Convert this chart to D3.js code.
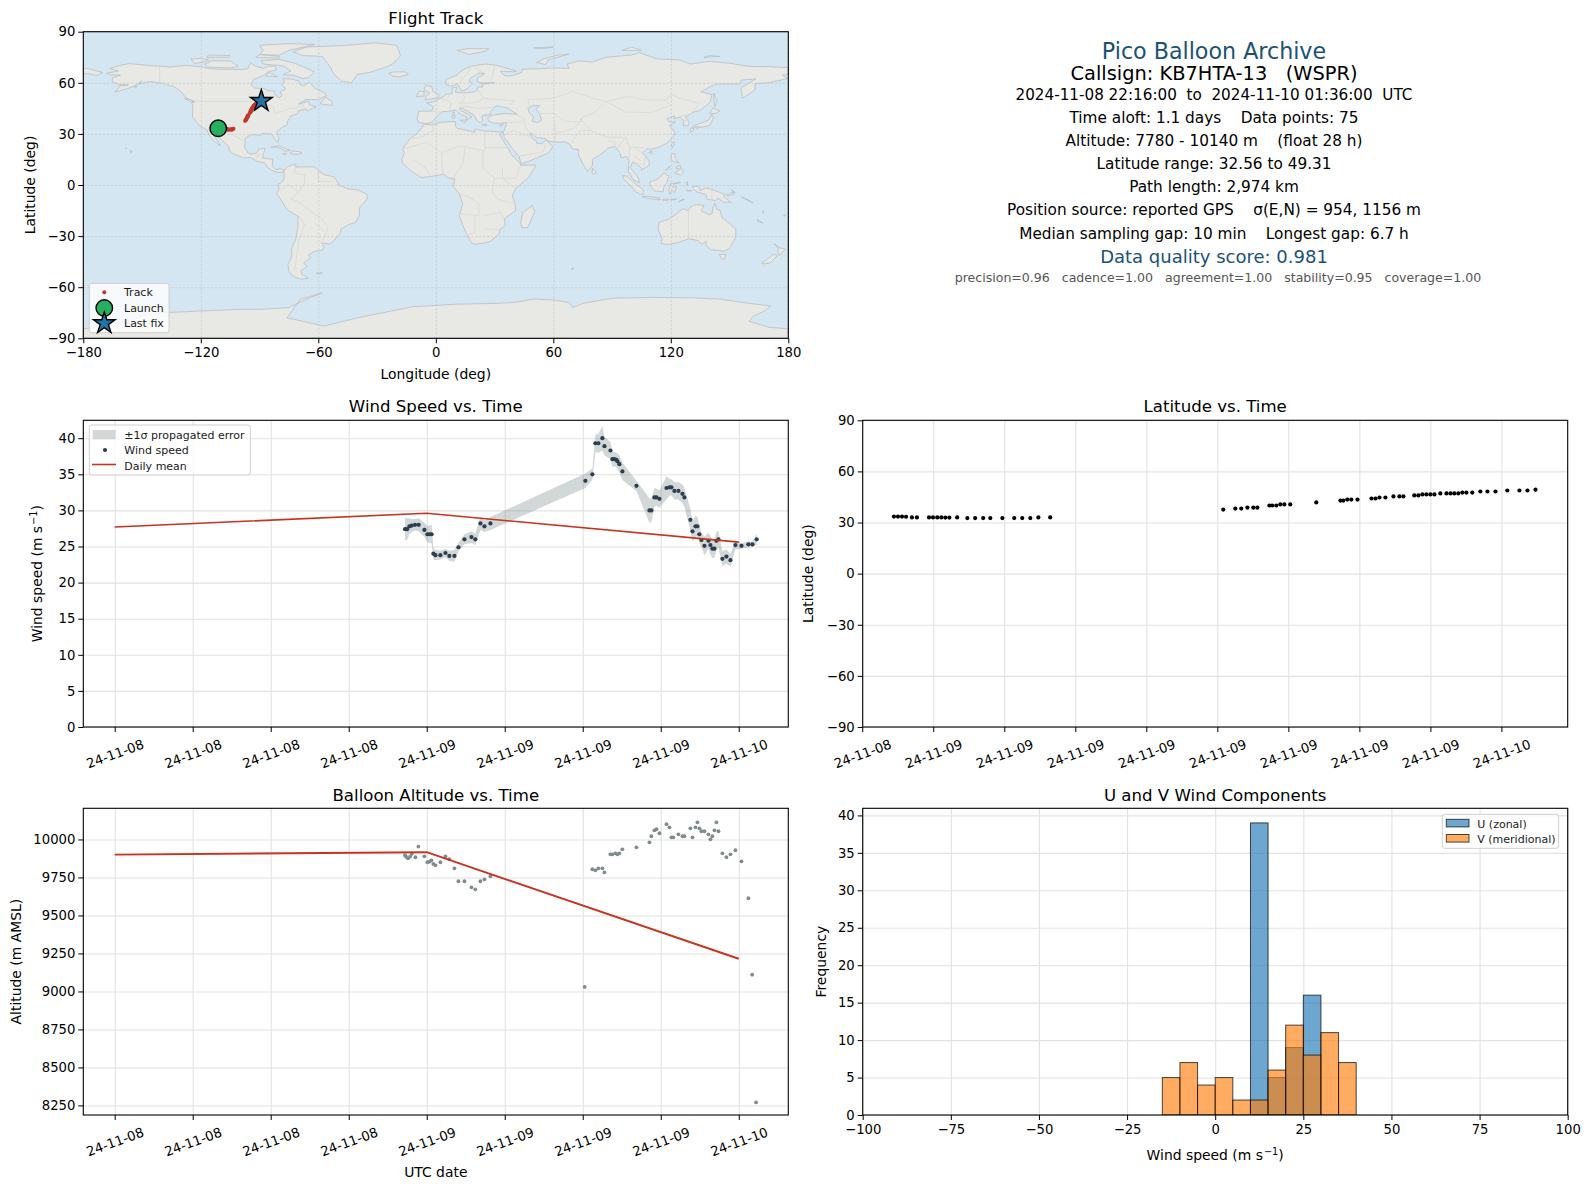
<!DOCTYPE html>
<html>
<head>
<meta charset="utf-8">
<script src="https://cdn.jsdelivr.net/npm/d3@7"></script>
<style>
body { margin: 0; background: #fff; }
svg { display: block; }
text { font-family: "DejaVu Sans", sans-serif; white-space: pre; }
</style>
</head>
<body>
<svg id="fig" width="1589" height="1189"></svg>
<script>
// wind speed vs time (hours after 2024-11-08 00:00 UTC)
var windHours = [22.33,22.49,22.67,22.85,23.10,23.38,23.82,24.05,24.23,24.38,24.51,24.67,25.05,25.44,25.74,26.13,26.44,26.9,27.44,27.74,28.13,28.44,28.9,36.2,36.74,36.97,37.2,37.51,37.67,38.13,38.28,38.44,38.59,38.67,38.82,39.05,40.13,41.13,41.28,41.51,41.67,41.9,42.44,42.67,42.82,43.05,43.36,43.67,43.82,44.28,44.44,44.67,44.82,44.97,45.13,45.36,45.67,45.82,45.97,46.13,46.28,46.44,46.74,47.05,47.36,47.74,48.21,48.74,49.05,49.38];
var windSpeed = [27.4,27.4,27.8,27.9,28.0,28.0,27.3,26.7,26.7,26.7,24.0,23.8,23.8,24.1,23.7,23.7,24.9,26.0,26.3,26.0,28.2,27.8,28.2,34.1,35.0,39.3,39.3,40.0,38.9,38.3,37.1,37.1,37.0,36.8,36.4,35.4,33.4,30.0,30.0,31.8,31.8,31.6,33.1,33.2,33.2,32.7,32.7,32.3,31.8,28.7,27.1,27.8,27.8,26.7,25.9,25.1,25.8,25.2,24.7,24.7,25.8,26.0,23.3,23.6,23.1,25.2,25.1,25.3,25.3,26.0];
var windSigma = [1.5,1.5,1.1,0.9,0.8,0.9,1.0,1.1,1.2,1.3,0.8,0.7,0.6,0.6,0.7,0.8,0.6,0.7,0.8,0.8,0.9,0.8,0.9,1.0,0.8,1.2,1.3,1.7,1.3,1.2,1.1,1.0,1.0,1.1,1.2,1.2,0.7,1.7,1.6,1.3,1.2,1.2,1.6,1.2,1.1,1.2,1.2,1.3,1.3,1.5,1.4,1.5,1.3,1.2,1.0,1.3,1.1,1.3,1.3,1.3,1.3,1.1,1.0,1.0,0.9,0.6,0.4,0.4,0.4,0.8];
var meanHours = [0, 24, 48];
var windMean = [27.7, 29.6, 25.6];
var altMean = [9900, 9916, 9215];

// latitude vs time, plus longitude for the map track
var latHours = [22.34,22.51,22.68,22.85,23.10,23.31,23.82,23.99,24.17,24.34,24.51,24.68,25.01,25.44,25.77,26.11,26.41,26.92,27.42,27.76,28.10,28.44,28.94,36.25,36.76,37.01,37.27,37.52,37.69,38.20,38.32,38.49,38.66,38.83,39.08,40.18,41.20,41.32,41.49,41.66,41.92,42.51,42.68,42.85,43.10,43.44,43.69,43.86,44.32,44.49,44.66,44.83,45.0,45.17,45.42,45.68,45.85,46.01,46.18,46.35,46.52,46.77,47.11,47.41,47.75,48.25,48.76,49.10,49.44];
var latValues = [33.5,33.5,33.5,33.4,33.0,33.0,33.0,33.0,33.0,33.0,32.9,32.9,33.0,32.6,32.6,32.6,32.6,32.6,32.6,32.6,32.6,33.0,33.0,37.6,38.2,38.2,38.8,38.8,38.8,40.0,40.0,40.0,40.6,40.6,40.6,41.8,42.9,42.9,43.5,43.5,43.5,44.1,44.1,44.7,44.7,45.3,45.3,45.3,45.9,45.9,46.5,46.5,46.5,46.5,47.1,47.1,47.1,47.1,47.1,47.6,47.6,47.6,48.2,48.2,48.2,48.8,48.8,48.8,49.31];
var trackLon = [-111.1,-110.8,-110.5,-110.2,-109.8,-109.4,-108.8,-108.5,-108.2,-107.9,-107.6,-107.2,-106.8,-106.3,-106,-105.6,-105.3,-104.9,-104.5,-104.2,-103.9,-103.6,-103.3,-97.4,-97.1,-97,-96.8,-96.7,-96.6,-96.2,-96.2,-96.1,-96,-95.9,-95.8,-95.2,-94.7,-94.6,-94.6,-94.5,-94.4,-94.2,-94.1,-94,-93.9,-93.7,-93.5,-93.4,-93.2,-93.1,-93,-92.9,-92.8,-92.7,-92.5,-92.4,-92.3,-92.2,-92.1,-92,-91.8,-91.6,-91.3,-91,-90.8,-90.3,-89.9,-89.6,-89.1];
var launchPoint = [-111.1, 33.3];
var lastPoint = [-89.1, 49.31];

// altitude vs time
var altHours = [22.33,22.41,22.56,22.72,22.85,23.13,23.36,23.82,24.05,24.21,24.36,24.51,24.67,25.05,25.44,25.74,26.13,26.44,26.9,27.44,27.74,28.13,28.44,28.9,36.15,36.74,36.97,37.2,37.51,37.67,38.13,38.28,38.51,38.67,38.82,39.05,40.13,41.13,41.28,41.51,41.67,41.9,42.44,42.67,42.82,42.97,43.36,43.67,43.82,44.28,44.44,44.67,44.82,44.97,45.13,45.36,45.67,45.82,45.97,46.13,46.28,46.44,46.74,47.05,47.36,47.74,48.21,48.74,49.03,49.33];
var altValues = [9896,9887,9876,9887,9905,9883,9953,9889,9850,9854,9863,9839,9830,9850,9889,9870,9810,9725,9725,9685,9672,9725,9738,9758,9030,9804,9797,9810,9810,9784,9902,9902,9909,9902,9909,9935,9948,9981,10021,10060,10067,10041,10100,10080,10014,10014,10034,10021,10021,10073,10014,10080,10113,10073,10054,10054,10034,10001,10021,10060,10113,10054,9909,9883,9902,9929,9856,9613,9110,8270];

// histogram counts, one per 5 m/s bin
var binStarts = [-15,-10,-5,0,5,10,15,20,25,30,35];
var uCounts = [0,0,0,0,0,39,5,9,16,0,0];
var vCounts = [5,7,4,5,2,2,6,12,8,11,7];

// text panel
var infoLines = [
	"Time aloft: 1.1 days    Data points: 75",
	"Altitude: 7780 - 10140 m    (float 28 h)",
	"Latitude range: 32.56 to 49.31",
	"Path length: 2,974 km",
	"Position source: reported GPS    \u03c3(E,N) = 954, 1156 m",
	"Median sampling gap: 10 min    Longest gap: 6.7 h"
];

// coastlines [lon, lat]
var landPolys = [
	// North America
	[[-156.6,71.3],[-152,70.8],[-145,70],[-141,69.7],[-135,69.3],[-128,70.2],[-124,69.8],[-120,69.4],[-115,68.2],[-110,67.9],[-105,68],[-100,67.8],[-96,68.2],[-94.5,71.9],[-92,69.7],[-88,68.5],[-85.5,69.8],[-82,69.7],[-81.3,67.5],[-86,66.3],[-87.5,64.5],[-93,62],[-94.5,59],[-92.7,57],[-88,56.5],[-85,55.3],[-82.3,55.1],[-82.2,52.9],[-80,51.2],[-78.5,52.5],[-79.5,54.7],[-76.6,56.5],[-78.5,58.8],[-77.3,60.8],[-78,62.4],[-73.5,62.2],[-70,61],[-69.5,59],[-67.6,58.2],[-64.6,60.3],[-61.5,56.5],[-57.5,54.6],[-55.7,52.5],[-60,50.2],[-66.4,50.2],[-70,47.5],[-65,49.2],[-64.5,47],[-61,46],[-65.5,43.6],[-66.2,44.6],[-70,43.7],[-70.7,41.7],[-74,40.6],[-76,36.9],[-75.7,35.5],[-78.5,33.8],[-81.3,31.4],[-80.1,26.8],[-80.5,25.2],[-81.8,26.1],[-82.8,28],[-84,30],[-89,30.2],[-89.5,29.2],[-94,29.6],[-97.2,27.7],[-97.7,22.4],[-95.9,18.8],[-94.4,18.2],[-91.5,18.5],[-90.5,21],[-87,21.5],[-88,18.5],[-88.5,15.9],[-83.2,15],[-83.6,11],[-81.7,9],[-79.5,9.6],[-77.4,8.7],[-78.2,7.5],[-80.4,7.3],[-83,8.3],[-85.7,10],[-87.5,13],[-91.5,14],[-94.5,16.2],[-98,15.9],[-103.5,18.3],[-105.6,20.4],[-105.5,22.5],[-109,26],[-112.7,31],[-114.8,31.7],[-112.5,27.5],[-109.8,23],[-112.2,24.8],[-115,28],[-117.1,32.5],[-120.5,34.5],[-122.5,37.5],[-124.3,40.3],[-124,46.2],[-124.7,48.4],[-122.8,49],[-127.5,51],[-130,54.7],[-134,58],[-140,59.8],[-146,60.8],[-151.7,59.2],[-150,61.2],[-152,59.5],[-154,58.2],[-158,56.3],[-164,54.6],[-161,58.3],[-157,58.7],[-162,59],[-165.3,60.8],[-165,63],[-161,64.5],[-166.5,64.7],[-168,65.6],[-162,67],[-166.5,68.4],[-161,70.3]],
	// Chukotka, east of the date line
	[[-180,68.9],[-175,67.5],[-170,66],[-173,64.3],[-178,65.5],[-180,65]],
	// Greenland and the Canadian islands
	[[-73,78.2],[-66,81],[-45,82],[-31,83.5],[-20,82],[-18,76],[-22,71],[-26,69],[-34,66],[-40,65],[-43,60],[-48,61],[-52,65],[-54,69.5],[-58,75.5],[-68,76]],
	[[-80,73.7],[-72,71.5],[-67,69],[-62,66.5],[-65,63],[-68,62.5],[-73,64.5],[-78,64.7],[-74,67],[-78,70],[-88,71],[-89,73]],
	[[-116,69.2],[-105,68.7],[-101,69.8],[-105,72.8],[-114,73],[-118,71]],
	[[-123,71.2],[-118,72.5],[-116,73.5],[-120,74.3],[-125,74]],
	[[-90,76.5],[-80,76.2],[-75,79],[-62,82.5],[-75,83],[-90,82],[-88,79]],
	[[-92,75],[-80,74.5],[-80,75.5],[-90,76.5]],
	[[-117,75],[-106,75],[-105,76],[-116,76.3]],
	[[-87,64],[-81,63.5],[-85,66]],
	[[-59,47.7],[-53,46.7],[-53,49],[-56,51.5],[-58,49.5]],
	[[-128.3,50.7],[-125,50],[-123.5,48.4],[-125.5,48.9]],
	[[-154,57.5],[-152.5,58],[-153.5,57]],
	// Caribbean, Hawaii
	[[-84.5,22],[-80,23],[-74.2,20.2],[-77.5,19.9],[-78,21],[-82,22.5]],
	[[-74.4,18.4],[-73,20],[-69.5,19.5],[-68.4,18.5],[-71,18]],
	[[-78.3,18.3],[-76.3,18.2],[-77,17.8]],
	[[-156,20.2],[-155,19.6],[-155.8,19]],
	[[-158.3,21.6],[-157.7,21.4],[-158,21.2]],
	// South America
	[[-77.4,8.7],[-75.5,10.8],[-71.5,12.4],[-71.5,10.5],[-68,10.6],[-62,10.6],[-60,8.5],[-57,6],[-52,4.8],[-50,1.5],[-50,0],[-44.5,-2.3],[-39.5,-3],[-35.3,-5.3],[-34.8,-7.5],[-37,-11],[-39,-13.5],[-39,-18],[-41,-22],[-44.5,-23.3],[-48.5,-26],[-48.8,-28.5],[-52.5,-33],[-54,-34.7],[-58.4,-34],[-57,-36.5],[-58,-38.3],[-62,-39],[-65,-41],[-63.8,-42.5],[-67.5,-46],[-65.7,-47.5],[-69,-50.7],[-68.3,-52.4],[-65,-54.8],[-69,-55.3],[-72,-54],[-75,-51],[-75.5,-46.5],[-73.5,-42],[-73.7,-37.2],[-71.5,-32],[-70.5,-25],[-70.3,-18.4],[-76,-14.5],[-79.7,-7.5],[-81.3,-5],[-80,-2.5],[-80.5,0.5],[-78.8,1.5],[-77.3,4],[-77.5,7]],
	[[-61,-51.8],[-57.8,-51.5],[-59,-52.3]],
	// Africa
	[[-5.9,35.8],[-2,35.2],[3,36.9],[10,37.3],[10.2,34.3],[11,33.2],[15,32.3],[20,30.9],[20,32.8],[25,31.7],[32,31.2],[34.3,31.2],[32.5,29.9],[35.5,24],[37.2,21],[38.5,18],[43.2,12.5],[43.3,11.5],[51.2,11.8],[47.5,4.5],[41,-1.8],[39,-6],[40.5,-11],[40.7,-15],[35,-20],[35.5,-24],[32.7,-26],[32.5,-28.5],[28,-33],[25,-34],[20,-34.8],[18.3,-34],[15,-27],[12,-18],[13.7,-11],[12,-5],[9,-1],[9.7,3.5],[6,4.3],[4.5,6.3],[-3,5],[-7.5,4.4],[-13,8.5],[-16.7,12.5],[-17.5,14.7],[-16,19],[-17,21],[-13,27.5],[-9.7,30],[-6.8,34]],
	[[49.3,-12],[50.5,-15.5],[47,-25],[44,-25],[43.3,-22],[44.4,-16.3]],
	// Eurasia
	[[-9,37],[-9.5,38.7],[-8.8,43.3],[-2,43.4],[-1.2,46],[-4.7,48.3],[-1.6,48.7],[1.5,50.5],[4,52],[5,53.3],[8.5,53.7],[8.3,57],[10.7,57.5],[10,54.5],[14,54],[19,54.5],[21,55.5],[21.5,57.5],[24,57.5],[23.5,59.2],[30,60],[23,60],[21,61],[21.5,63],[25,65.3],[22,65.8],[17.5,62.5],[17,60.7],[18.5,59.7],[16.5,57],[14.3,55.5],[13,55.4],[11.2,59],[10.6,59.3],[8,58],[5.3,59],[5,62],[10,64],[14.5,68],[19,70],[25.5,71],[31,70.3],[41,67],[41,66.5],[33,66.7],[35,64.3],[37.5,64],[40.5,64.6],[44,66.2],[44,68],[54,68.3],[60,68.7],[68,68.5],[67,71],[73,72.8],[80,72.2],[87,75],[100,76.3],[104,77.7],[113,74],[124,73.5],[130,71],[140,72.6],[150,71.5],[160,69.6],[170,69.5],[180,68.9],[180,65],[177,64.5],[179.5,62.5],[170,60],[163,59.5],[163,56],[162,55],[156.7,51],[155.8,57],[161,60.5],[163.5,62.3],[156,61.6],[155,59.3],[143,59.3],[135.3,54.7],[141,53],[140,48.5],[135,43.7],[132,43],[127.5,39.8],[129.4,37],[129,35.2],[126.4,34.5],[126.7,37.5],[124.7,39.8],[121.6,39],[122,40.5],[118,39],[119,37.2],[122.5,37],[119.3,35],[122,31],[121.5,28.5],[118,24.5],[114,22.3],[110,21],[108,21.5],[105.7,19],[109,14],[109,11.5],[105,8.7],[105,10],[102.5,12.5],[100.5,13.5],[99.3,10],[103,5],[104.2,1.4],[101,3],[98.3,8],[98.6,14],[97.5,16.6],[94.5,16],[94,19],[91.5,22.7],[88,21.7],[86.5,20],[82.5,16.7],[80,15],[80,11.5],[77.5,8],[76,10.5],[73,17],[72.7,21],[70,21],[68.7,23.5],[66.5,25.3],[61.5,25.1],[57.3,25.8],[56.3,27.1],[51.5,27.8],[49,30.3],[48,29.9],[49.5,27],[51.3,26],[51.5,24.5],[54,24.2],[56.3,26.2],[59.8,22.5],[57.7,19],[52,16],[45,12.8],[43.3,12.8],[42.7,16.5],[39,21.5],[35,28],[34.3,31.2],[34.9,32],[36,35.5],[36,36.7],[32,36.2],[29,36.5],[27,37.5],[26.5,39.5],[29,41],[35,42],[41.5,41.5],[37,45],[33.5,46],[30.7,46.5],[28,43],[28,41.3],[23.5,40.5],[24,38],[22.8,36.5],[21,38],[19.5,41],[14,45],[12.3,45.3],[12.4,44],[16,41.8],[18.5,40],[16.5,39],[16,38],[15.8,40],[12,42],[10,44],[6.5,43.2],[3.1,43],[0,39.5],[-2,36.8],[-5.5,36]],
	// European and arctic islands
	[[-5.5,50],[1.3,51.2],[1.7,52.7],[-1.5,55],[-2,57.6],[-5,58.6],[-6,56],[-3,54],[-5,52]],
	[[-10,52],[-6,52.2],[-6,55],[-8.5,55]],
	[[-24,65.5],[-22,64],[-18.5,63.4],[-14,65],[-16,66.5],[-22,66.3]],
	[[11,79],[17,76.7],[25,78.5],[27,80],[16,80]],
	[[51.5,72],[56,70.7],[57.5,73.5],[68,76.8],[62,76.2],[55,74]],
	[[95,79],[105,79],[100,81]],
	[[137,75],[145,75.5],[140,76]],
	[[50,80.5],[60,81],[55,80]],
	[[12.5,38],[15.6,38.2],[15,36.7]],
	[[8.2,40.9],[9.8,40.9],[9.6,39.2],[8.5,39]],
	[[8.7,42.6],[9.5,42.9],[9.2,41.4]],
	[[23.6,35.5],[26.3,35.2],[24.5,35]],
	[[32.5,35],[34.5,35.6],[33.5,34.7]],
	// East Asia
	[[142,54],[143.5,49],[142.5,46],[142,50]],
	[[130.9,34],[136,34],[140,35],[141.8,39.5],[141,41.3],[139.5,38.3],[136,36.5],[132,35]],
	[[140,42],[141.5,45.3],[145,43.5],[143,42]],
	[[130,33.5],[131.9,33],[131,31.3],[130,31.5]],
	[[132.5,34],[134.5,34],[133.5,33]],
	[[120.2,23],[121,25],[122,25],[120.9,22]],
	[[108.7,19],[110.5,20],[110.5,18.5]],
	[[80,9.8],[81.8,7.5],[80.6,5.9],[79.8,7.5]],
	// Southeast Asia and Oceania
	[[120,16],[120.7,18.5],[122.2,18.4],[122,16],[124,13],[121,13.8]],
	[[122,7],[125.5,9.7],[126.5,7.5],[125,5.8]],
	[[123,11],[125,11.5],[125,10],[123,9.5]],
	[[117.3,8.5],[119.5,11.3],[119,10]],
	[[109,1.5],[111.4,2.7],[113,3.2],[116.7,7],[119,5],[117.8,1],[116.5,-1],[116,-4],[111.7,-3.4],[110,-1.3]],
	[[95.3,5.5],[97.5,5.2],[103.8,-1],[106,-3],[105.8,-5.8],[102,-4],[100,-1],[96,3.5]],
	[[105.2,-6.8],[108.6,-6.7],[114.5,-7.7],[114.5,-8.7],[108,-7.8]],
	[[119.5,-5.5],[119,-3],[120,0.8],[125,1.5],[121.5,0.4],[121,-1.5],[123,-1],[122,-4.5],[120.8,-2.8]],
	[[116,-8.4],[119,-8.3],[119,-8.9],[116,-9]],
	[[120,-8.5],[123,-8.3],[120,-8.9]],
	[[124,-10],[127,-8.4],[125,-9]],
	[[128,-3],[130.7,-3.4],[128.5,-3.6]],
	[[127.7,1],[128.5,2],[128.5,-0.5]],
	[[131,-1],[134,-0.8],[135,-3.3],[138,-1.7],[141,-2.6],[145,-4.3],[147.8,-6],[147,-6.8],[150.8,-10.3],[147,-10],[144,-7.7],[143,-9.2],[138.5,-8.3],[138,-5.5],[133,-4],[132,-2.8]],
	[[148.5,-5.7],[152,-4.2],[152,-5.5],[149,-6.3]],
	[[150.8,-2.7],[153,-4.7],[152.2,-4]],
	[[156,-7],[160,-9],[162,-10.5],[158,-8.3]],
	[[167,-15],[167.5,-16.5],[166.8,-16]],
	[[164,-20.2],[167,-22.3],[165,-21.8]],
	[[177.5,-18],[178.6,-17.5],[178.2,-18.3]],
	[[114,-22],[113.5,-26],[115.5,-31.5],[115,-34.3],[118,-35],[123.5,-33.9],[129,-31.6],[134,-32.6],[135.7,-34.9],[138,-33],[138,-35.6],[140.5,-38],[145,-38.5],[147,-38.9],[150,-37.3],[153,-31],[153.3,-26],[149.5,-22],[146,-19],[145.3,-15],[143.5,-14.2],[142.5,-10.8],[141.6,-13],[141,-17],[139.5,-17.5],[135.5,-15],[137,-12],[133,-11.5],[130,-12.8],[129,-15],[126,-14],[122.3,-17.5],[119,-20]],
	[[144.7,-40.8],[148.2,-40.8],[147.5,-43.5],[146,-43.5]],
	[[172.7,-34.5],[175.5,-36.8],[178.5,-37.7],[175.3,-41.6],[174.7,-39],[174.8,-37]],
	[[172.7,-40.5],[174.2,-41.7],[170.6,-45.9],[167.5,-46.3],[166.5,-45.8],[171,-42]],
	[[69,-49],[70.5,-49],[70,-49.6]],
	// Antarctica
	[[-180,-84.5],[-160,-82],[-150,-77],[-140,-75],[-120,-74],[-100,-73],[-90,-73],[-75,-72],[-68,-68],[-58,-63.3],[-69,-67],[-76,-78],[-57,-82.8],[-40,-78],[-12,-71.5],[3,-70.5],[10,-70],[30,-69.5],[40,-69],[50,-67],[60,-67.5],[68,-69],[70,-72],[75,-69.5],[90,-66.5],[110,-66],[130,-66.2],[145,-67],[160,-69.5],[171,-71],[168,-74],[162,-77],[160,-80],[170,-83.5],[180,-84.5],[180,-90],[-180,-90]]
];
var seaPolys = [
	[[47,45],[50,46.8],[53,46.5],[51,44.5],[53,42],[54,38],[52,36.7],[49,37.5],[50,40],[48,42]]
];
var borderLines = [
	[[-123,49],[-95,49],[-89,48],[-83,46],[-82.5,42],[-79,43],[-75,45],[-71,45],[-68,47],[-67,45]],
	[[-141,69.7],[-141,60],[-135,58]],
	[[-117,32.5],[-111,31.3],[-106.5,31.7],[-103,29],[-99,26.5],[-97.2,26]],
	[[-92,14.5],[-91,17.5],[-89,18]],
	[[-72,12],[-72,7],[-67,6],[-67,1],[-70,-4],[-74,-8],[-69,-11],[-58,-20],[-55,-25],[-58,-34]],
	[[-70,-18],[-67,-23],[-70,-33],[-72,-50]],
	[[-80,-3],[-75,0],[-70,-4]],
	[[-60,8],[-60,2],[-52,2]],
	[[-62,-22],[-57,-27]],
	[[-13,27.5],[-8.7,27.5],[-1,32],[-2,35]],
	[[-17,21],[-5,25],[3,19],[12,23],[25,20],[25,31.7]],
	[[25,22],[37,22]],
	[[3,19],[3,12],[4,6.3]],
	[[-12,15],[-5,10],[-3,5]],
	[[15,23],[14,13],[9,4]],
	[[24,20],[24,10],[30,4],[41,4],[43,11]],
	[[34,10],[34,4],[41,-2]],
	[[30,4],[29,-4],[31,-8],[40,-11]],
	[[12,-5],[17,-7],[22,-11],[22,-18],[12,-17]],
	[[20,-18],[20,-28],[17,-29]],
	[[25,-18],[33,-16],[35,-20]],
	[[25,-26],[32,-26]],
	[[-2,43.4],[3,42.5]],
	[[2.5,51],[6,49.5],[8,48],[7,44]],
	[[7,53.5],[6,51]],
	[[14,54],[15,51],[12,48],[17,48],[22,49],[24,51],[23,54],[21,55.5]],
	[[13,46.5],[22,45],[29,45.5]],
	[[23,41],[28,42]],
	[[24,51],[40,49.5],[38,47]],
	[[28,60],[30,69.5]],
	[[20,69],[24,66],[22,65.8]],
	[[12,60],[18,68.5]],
	[[48,46],[47,50],[60,51],[70,55],[80,51],[87,49]],
	[[87,49],[98,52],[107,50],[117,50],[120,53],[127,50],[135,48],[131,43]],
	[[87,49],[97,42.8],[110,42.5],[120,47],[117,50]],
	[[87,49],[80,42],[74,39],[79,32],[88,28],[97,28],[99,22],[106,22]],
	[[53,42],[60,42],[66,37.5],[74,37],[74,39]],
	[[45,39],[46,33],[49,30]],
	[[61,37],[61,25]],
	[[61,30],[70,33],[74,37]],
	[[68.7,23.7],[71,28],[74,32],[79,32]],
	[[88,26],[92,25],[91.5,22.7]],
	[[97,28],[93,22]],
	[[99,22],[98.5,14]],
	[[102,22],[107,17],[106,11]],
	[[101,17],[105,14]],
	[[35,29],[39,32],[47,29],[48,28]],
	[[52,16],[55,20],[56,24]],
	[[43,17],[53,19]],
	[[36,36.7],[44,37],[45,39],[41.5,41.5]],
	[[124.5,40],[131,42]],
	[[126,38],[129,38]],
	[[141,-2.6],[141,-9]],
	[[129,-15],[129,-31.6]]
];

var lonTicks = d3.range(-180, 181, 60);
var latTicks = d3.range(-90, 91, 30);
var windTicks = d3.range(0, 41, 5);
var altTicks = d3.range(8250, 10001, 250);
var freqTicks = d3.range(0, 41, 5);
var histTicks = d3.range(-100, 101, 25);

var C_RED = "#c8321f", C_WIND = "#2c3e50", C_BAND = "#7f8c8d";

var svg = d3.select("#fig");
var axLeft = [83.3, 788.3], axRight = [862.7, 1567.7];
var rowTop = [31.7, 338.3], rowMid = [420.3, 727], rowBot = [808.3, 1115];
var t0 = Date.UTC(2024, 10, 8);
function toDate(h){ return new Date(t0 + h * 3600e3); }
var fmtDate = d3.utcFormat("%y-%m-%d");
function minus(d){ return String(d).replace("-", "\u2212"); }

// 軸と枠とグリッドをまとめて描く
function panel(id, xr, yr, xScale, yScale, xTicks, yTicks, xFmt, yFmt, gridDash){
	var g = svg.append("g").attr("id", id);
	g.append("clipPath").attr("id", id + "_clip").append("rect")
		.attr("x", xr[0]).attr("y", yr[0]).attr("width", xr[1] - xr[0]).attr("height", yr[1] - yr[0]);
	g.append("rect").attr("class", "bg").attr("x", xr[0]).attr("y", yr[0])
		.attr("width", xr[1] - xr[0]).attr("height", yr[1] - yr[0]).attr("fill", "#fff");
	var grid = g.append("g");
	var plot = g.append("g").attr("clip-path", "url(#" + id + "_clip)");
	var top = g.append("g");

	grid.append("g").attr("transform", "translate(0," + yr[1] + ")")
		.call(d3.axisBottom(xScale).tickValues(xTicks).tickSize(-(yr[1] - yr[0])).tickFormat(""));
	grid.append("g").attr("transform", "translate(" + xr[0] + ",0)")
		.call(d3.axisLeft(yScale).tickValues(yTicks).tickSize(-(xr[1] - xr[0])).tickFormat(""));
	grid.selectAll(".domain").remove();
	grid.selectAll("line").attr("stroke", gridDash ? "#bcc0c2" : "#e2e2e2")
		.attr("stroke-width", gridDash ? 0.6 : 1.1).attr("stroke-dasharray", gridDash ? "2,2" : null);

	var ax = top.append("g").attr("transform", "translate(0," + yr[1] + ")")
		.call(d3.axisBottom(xScale).tickValues(xTicks).tickSize(5).tickSizeOuter(0).tickFormat(xFmt));
	var ay = top.append("g").attr("transform", "translate(" + xr[0] + ",0)")
		.call(d3.axisLeft(yScale).tickValues(yTicks).tickSize(5).tickSizeOuter(0).tickFormat(yFmt));
	top.selectAll("line").attr("stroke", "#000").attr("stroke-width", 1);
	top.selectAll(".domain").remove();
	top.selectAll("text").attr("font-family", null).attr("fill", "#000").style("font-size", "13.2px");
	ax.selectAll("text").attr("y", 9.5);
	ay.selectAll("text").attr("x", -8);
	top.append("rect").attr("x", xr[0]).attr("y", yr[0]).attr("width", xr[1] - xr[0]).attr("height", yr[1] - yr[0])
		.attr("fill", "none").attr("stroke", "#000").attr("stroke-width", 1.1);
	return {plot: plot, top: top, grid: grid, ax: ax, ay: ay, under: g.select(".bg")};
}

function title(txt, xr, yr, gap){
	svg.append("text").attr("x", (xr[0] + xr[1]) / 2).attr("y", yr[0] - gap)
		.attr("text-anchor", "middle").style("font-size", "16.6px").text(txt);
}
function xLabel(txt, xr, y){
	svg.append("text").attr("x", (xr[0] + xr[1]) / 2).attr("y", y)
		.attr("text-anchor", "middle").style("font-size", "13.9px").text(txt);
}
function yLabel(txt, x, yr){
	svg.append("text").attr("transform", "translate(" + x + "," + (yr[0] + yr[1]) / 2 + ") rotate(-90)")
		.attr("text-anchor", "middle").style("font-size", "13.9px").text(txt);
}
// "(m s-1)" の上付き部分だけ tspan にする
function addUnit(t){
	t.append("tspan").text("Wind speed (m s");
	t.append("tspan").attr("dy", -5).attr("dx", 1).style("font-size", "9.8px").text("\u22121");
	t.append("tspan").attr("dy", 5).text(")");
}
// 日付ラベルを斜めにする
function slantDates(p){
	p.ax.selectAll("text")
		.attr("y", null).attr("dy", null)
		.attr("transform", "translate(0,27) rotate(-20)")
		.attr("dominant-baseline", "central")
		.attr("text-anchor", "middle");
}
function legendBox(g, x0, y0, x1, y1){
	g.append("rect").attr("x", x0).attr("y", y0).attr("width", x1 - x0).attr("height", y1 - y0)
		.attr("rx", 2.5).attr("fill", "#fff").attr("fill-opacity", 0.8)
		.attr("stroke", "#cfcfcf").attr("stroke-width", 1);
}
function legendText(g, x, y, txt){
	g.append("text").attr("x", x).attr("y", y).style("font-size", "11px").attr("fill", "#1a1a1a").text(txt);
}

// ---- Flight Track
var mapX = d3.scaleLinear().domain([-180, 180]).range(axLeft);
var mapY = d3.scaleLinear().domain([-90, 90]).range([rowTop[1], rowTop[0]]);
var pMap = panel("map", axLeft, rowTop, mapX, mapY, lonTicks, latTicks, minus, minus, true);
var geoLine = d3.line().x(function(d){ return mapX(d[0]); }).y(function(d){ return mapY(d[1]); });
pMap.under.attr("fill", "#d4e6f1");
// 海と陸はグリッドの下に置く
var mapBase = pMap.grid.insert("g", ":first-child");
mapBase.selectAll("path.land").data(landPolys).join("path").attr("class", "land")
	.attr("d", function(d){ return geoLine(d) + "Z"; })
	.attr("fill", "#e8e8e4").attr("stroke", "#b5b9ba").attr("stroke-width", 0.7).attr("stroke-linejoin", "round");
mapBase.selectAll("path.sea").data(seaPolys).join("path").attr("class", "sea")
	.attr("d", function(d){ return geoLine(d) + "Z"; })
	.attr("fill", "#d4e6f1").attr("stroke", "#b5b9ba").attr("stroke-width", 0.7);
mapBase.selectAll("path.border").data(borderLines).join("path").attr("class", "border")
	.attr("d", geoLine).attr("fill", "none").attr("stroke", "#d6d7d3").attr("stroke-width", 0.7);

pMap.plot.selectAll("circle.track").data(trackLon).join("circle").attr("class", "track")
	.attr("cx", function(d){ return mapX(d); })
	.attr("cy", function(d, i){ return mapY(latValues[i]); })
	.attr("r", 2).attr("fill", "#c0392b").attr("fill-opacity", 0.9);
var circlePath = d3.symbol(d3.symbolCircle).size(215)();
var starPath = d3.symbol(d3.symbolStar).size(145)();
pMap.top.append("path").attr("d", circlePath)
	.attr("transform", "translate(" + mapX(launchPoint[0]) + "," + mapY(launchPoint[1]) + ")")
	.attr("fill", "#27ae60").attr("stroke", "#000").attr("stroke-width", 1.4);
pMap.top.append("path").attr("d", starPath)
	.attr("transform", "translate(" + mapX(lastPoint[0]) + "," + mapY(lastPoint[1]) + ")")
	.attr("fill", "#2471a3").attr("stroke", "#000").attr("stroke-width", 1.4);
var legMap = pMap.top.append("g");
legendBox(legMap, 89.3, 283.3, 169, 332.7);
legMap.append("circle").attr("cx", 104.3).attr("cy", 292.3).attr("r", 2).attr("fill", "#c0392b");
legMap.append("path").attr("d", circlePath).attr("transform", "translate(104.3,308)")
	.attr("fill", "#27ae60").attr("stroke", "#000").attr("stroke-width", 1.4);
legMap.append("path").attr("d", starPath).attr("transform", "translate(104.3,323.3)")
	.attr("fill", "#2471a3").attr("stroke", "#000").attr("stroke-width", 1.4);
legendText(legMap, 124, 296, "Track");
legendText(legMap, 124, 311.5, "Launch");
legendText(legMap, 124, 326.5, "Last fix");
title("Flight Track", axLeft, rowTop, 7.5);
xLabel("Longitude (deg)", axLeft, 379);
yLabel("Latitude (deg)", 35, rowTop);

// ---- Wind Speed vs. Time
var timeX = d3.scaleUtc().domain([toDate(-2.415), toDate(51.81)]).range(axLeft);
var sixHourTicks = d3.utcHour.every(6).range(toDate(0), toDate(48.1));
var windY = d3.scaleLinear().domain([0, 42.48]).range([rowMid[1], rowMid[0]]);
var pWind = panel("wind", axLeft, rowMid, timeX, windY, sixHourTicks, windTicks, fmtDate, String, false);
slantDates(pWind);
var band = d3.area()
	.x(function(d, i){ return timeX(toDate(windHours[i])); })
	.y0(function(d, i){ return windY(d - windSigma[i]); })
	.y1(function(d, i){ return windY(d + windSigma[i]); });
pWind.plot.append("path").datum(windSpeed).attr("d", band).attr("fill", C_BAND).attr("fill-opacity", 0.35);
pWind.plot.selectAll("circle").data(windSpeed).join("circle")
	.attr("cx", function(d, i){ return timeX(toDate(windHours[i])); })
	.attr("cy", function(d){ return windY(d); })
	.attr("r", 2.1).attr("fill", C_WIND);
var meanLine = d3.line().x(function(d, i){ return timeX(toDate(meanHours[i])); });
pWind.plot.append("path").datum(windMean).attr("d", meanLine.y(function(d){ return windY(d); }))
	.attr("fill", "none").attr("stroke", C_RED).attr("stroke-width", 1.6);
var legWind = pWind.top.append("g");
legendBox(legWind, 89.3, 425, 250.3, 475);
legWind.append("rect").attr("x", 92.7).attr("y", 430).attr("width", 23).attr("height", 9.3)
	.attr("fill", C_BAND).attr("fill-opacity", 0.35);
legWind.append("circle").attr("cx", 105).attr("cy", 450).attr("r", 2.1).attr("fill", C_WIND);
legWind.append("line").attr("x1", 92).attr("x2", 116).attr("y1", 464.5).attr("y2", 464.5)
	.attr("stroke", C_RED).attr("stroke-width", 1.6);
legendText(legWind, 124.3, 439, "\u00b11\u03c3 propagated error");
legendText(legWind, 124.3, 454, "Wind speed");
legendText(legWind, 124.3, 469.5, "Daily mean");
title("Wind Speed vs. Time", axLeft, rowMid, 8.5);
svg.append("text").attr("transform", "translate(42," + (rowMid[0] + rowMid[1]) / 2 + ") rotate(-90)")
	.attr("text-anchor", "middle").style("font-size", "13.9px").call(addUnit);

// ---- Latitude vs. Time
var latTimeX = d3.scaleUtc().domain([toDate(21.02), toDate(50.8)]).range(axRight);
var threeHourTicks = d3.utcHour.every(3).range(toDate(21), toDate(48.1));
var latY = d3.scaleLinear().domain([-90, 90]).range([rowMid[1], rowMid[0]]);
var pLat = panel("lat", axRight, rowMid, latTimeX, latY, threeHourTicks, latTicks, fmtDate, minus, false);
slantDates(pLat);
pLat.plot.selectAll("circle").data(latValues).join("circle")
	.attr("cx", function(d, i){ return latTimeX(toDate(latHours[i])); })
	.attr("cy", function(d){ return latY(d); })
	.attr("r", 2.1).attr("fill", "#000");
title("Latitude vs. Time", axRight, rowMid, 8.5);
yLabel("Latitude (deg)", 813, rowMid);

// ---- Balloon Altitude vs. Time
var altY = d3.scaleLinear().domain([8187, 10205]).range([rowBot[1], rowBot[0]]);
var pAlt = panel("alt", axLeft, rowBot, timeX, altY, sixHourTicks, altTicks, fmtDate, String, false);
slantDates(pAlt);
pAlt.plot.selectAll("circle").data(altValues).join("circle")
	.attr("cx", function(d, i){ return timeX(toDate(altHours[i])); })
	.attr("cy", function(d){ return altY(d); })
	.attr("r", 1.9).attr("fill", C_BAND);
pAlt.plot.append("path").datum(altMean).attr("d", meanLine.y(function(d){ return altY(d); }))
	.attr("fill", "none").attr("stroke", C_RED).attr("stroke-width", 1.9);
title("Balloon Altitude vs. Time", axLeft, rowBot, 7.5);
xLabel("UTC date", axLeft, 1177);
yLabel("Altitude (m AMSL)", 21, rowBot);

// ---- U and V Wind Components
var histX = d3.scaleLinear().domain([-100, 100]).range(axRight);
var histY = d3.scaleLinear().domain([0, 40.95]).range([rowBot[1], rowBot[0]]);
var pHist = panel("hist", axRight, rowBot, histX, histY, histTicks, freqTicks, minus, String, false);
function drawBars(counts, color){
	pHist.plot.append("g").selectAll("rect").data(counts).join("rect")
		.attr("x", function(d, i){ return histX(binStarts[i]); })
		.attr("y", function(d){ return histY(d); })
		.attr("width", function(d, i){ return histX(binStarts[i] + 5) - histX(binStarts[i]); })
		.attr("height", function(d){ return histY(0) - histY(d); })
		.attr("fill", color).attr("fill-opacity", 0.65)
		.attr("stroke", "#000").attr("stroke-opacity", 0.7).attr("stroke-width", 1)
		.filter(function(d){ return d === 0; }).remove();
}
drawBars(uCounts, "#1f77b4");
drawBars(vCounts, "#ff7f0e");
var legHist = pHist.top.append("g");
legendBox(legHist, 1442.3, 814.3, 1558.6, 848.3);
legHist.append("rect").attr("x", 1446.3).attr("y", 819.3).attr("width", 22.7).attr("height", 7.6)
	.attr("fill", "#1f77b4").attr("fill-opacity", 0.65).attr("stroke", "#000").attr("stroke-opacity", 0.7);
legHist.append("rect").attr("x", 1446.3).attr("y", 834.5).attr("width", 22.7).attr("height", 7.6)
	.attr("fill", "#ff7f0e").attr("fill-opacity", 0.65).attr("stroke", "#000").attr("stroke-opacity", 0.7);
legendText(legHist, 1477.3, 827.5, "U (zonal)");
legendText(legHist, 1477.3, 842.5, "V (meridional)");
title("U and V Wind Components", axRight, rowBot, 7.5);
svg.append("text").attr("x", (axRight[0] + axRight[1]) / 2).attr("y", 1160)
	.attr("text-anchor", "middle").style("font-size", "13.9px").call(addUnit);
yLabel("Frequency", 826, rowBot);

// ---- text panel
var cx = 1214;
function info(y, size, color, txt, x){
	svg.append("text").attr("x", x || cx).attr("y", y).attr("text-anchor", "middle")
		.style("font-size", size + "px").attr("fill", color).text(txt);
}
info(58.5, 22.2, "#1a5276", "Pico Balloon Archive");
info(80, 19.4, "#000", "Callsign: KB7HTA-13   (WSPR)");
info(99.5, 15.2, "#000", "2024-11-08 22:16:00  to  2024-11-10 01:36:00  UTC");
infoLines.forEach(function(line, i){
	info(122.8 + i * 23.15, 15.3, "#000", line);
});
info(263, 18, "#1a5276", "Data quality score: 0.981");
info(281.5, 12.55, "#555", "precision=0.96   cadence=1.00   agreement=1.00   stability=0.95   coverage=1.00", 1218);
</script>
</body>
</html>
